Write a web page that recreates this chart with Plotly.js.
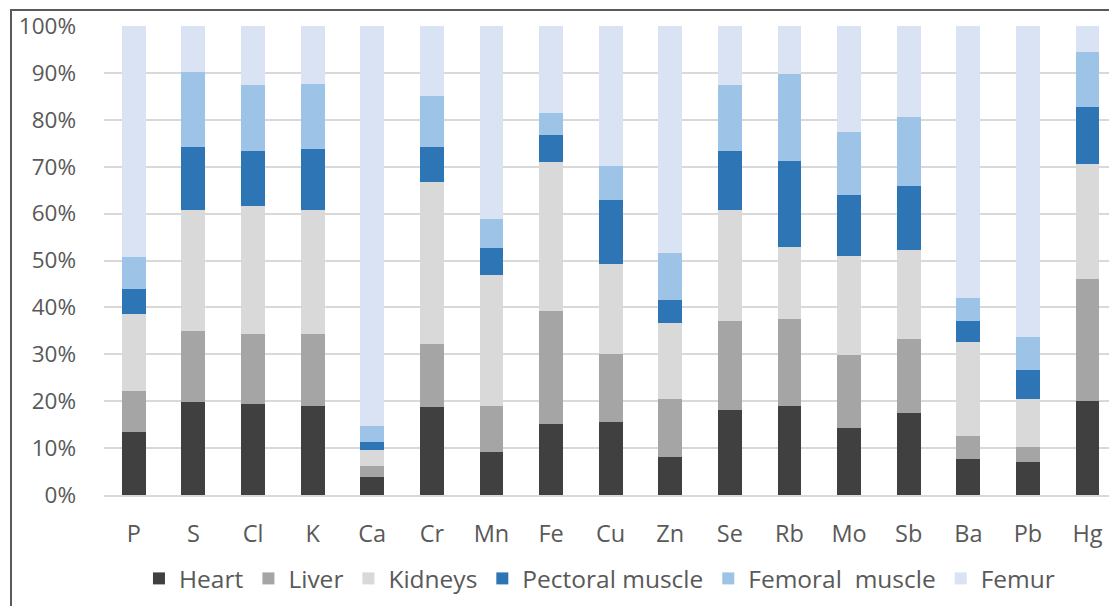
<!DOCTYPE html>
<html>
<head>
<meta charset="utf-8">
<script src="https://cdn.plot.ly/plotly-3.0.1.min.js"></script>
<style>
  html, body { margin: 0; padding: 0; background: #ffffff; overflow: hidden; }
  #chart { position: absolute; left: 0; top: 0; width: 1109px; height: 606px; }
  #frame { position: absolute; left: 10px; top: 9px; width: 1200px; height: 700px;
           border-top: 2px solid #5a5a5a; border-left: 2px solid #5a5a5a; pointer-events: none; }
</style>
</head>
<body>
<div id="chart"></div>
<div id="frame"></div>
<script>
const elements = ["P","S","Cl","K","Ca","Cr","Mn","Fe","Cu","Zn","Se","Rb","Mo","Sb","Ba","Pb","Hg"];

const heart    = [13.4, 19.9, 19.4, 19.0, 3.9, 18.8,  9.2, 15.1, 15.5,  8.2, 18.1, 19.0, 14.2, 17.4,  7.7,  7.0, 20.0];
const liver    = [ 8.8, 15.1, 14.9, 15.3, 2.2, 13.4,  9.8, 24.1, 14.6, 12.3, 18.9, 18.5, 15.6, 15.9,  4.9,  3.3, 26.1];
const kidneys  = [16.3, 25.8, 27.3, 26.5, 3.4, 34.6, 28.0, 31.8, 19.2, 16.1, 23.7, 15.4, 21.2, 18.9, 20.0, 10.1, 24.4];
const pectoral = [ 5.4, 13.5, 11.7, 13.0, 1.8,  7.5,  5.6,  5.8, 13.7,  5.0, 12.7, 18.3, 12.9, 13.7,  4.4,  6.2, 12.2];
const femoral  = [ 6.8, 15.8, 14.2, 13.9, 3.4, 10.8,  6.3,  4.6,  7.1, 10.1, 14.0, 18.5, 13.4, 14.7,  5.0,  7.1, 11.8];
const femur    = [49.3,  9.9, 12.5, 12.3, 85.3, 14.9, 41.1, 18.6, 29.9, 48.3, 12.6, 10.3, 22.7, 19.4, 58.0, 66.3, 5.5];

const seriesNames  = ["Heart", "Liver", "Kidneys", "Pectoral muscle", "Femoral\u00a0 muscle", "Femur"];
const seriesValues = [heart, liver, kidneys, pectoral, femoral, femur];
const seriesColors = ["#404040", "#a5a5a5", "#d9d9d9", "#2e75b6", "#9dc3e6", "#dae3f3"];

const yTicks = [0,10,20,30,40,50,60,70,80,90,100];

const traces = seriesNames.map((n, i) => ({
  type: "bar",
  name: n,
  x: elements,
  y: seriesValues[i],
  marker: { color: seriesColors[i], line: { width: 0 } },
  hoverinfo: "x+y+name"
}));

const layout = {
  width: 1109,
  height: 606,
  margin: { l: 104, r: 0, t: 26, b: 111, pad: 0 },
  barmode: "stack",
  barnorm: "percent",
  bargap: 0.6,
  paper_bgcolor: "rgba(0,0,0,0)",
  plot_bgcolor: "rgba(0,0,0,0)",
  font: { family: "'Open Sans', 'Noto Sans', sans-serif", color: "#595959", size: 23 },
  showlegend: true,
  legend: {
    orientation: "h",
    x: 0.493, xanchor: "center",
    y: -0.178, yanchor: "middle",
    font: { size: 24.5, color: "#595959" },
    traceorder: "normal",
    itemclick: false
  },
  xaxis: {
    type: "category",
    range: [-0.5, 16.36],
    showgrid: false,
    zeroline: false,
    showline: true,
    linecolor: "#d9d9d9",
    linewidth: 2,
    ticks: "",
    ticklabelstandoff: 17,
    tickfont: { size: 23.5, color: "#595959" }
  },
  yaxis: {
    range: [0, 100],
    tickvals: yTicks,
    ticktext: yTicks.map(v => v + "%"),
    showgrid: true,
    gridcolor: "#d9d9d9",
    gridwidth: 2,
    zeroline: false,
    showline: false,
    ticks: "",
    ticklabelstandoff: 27,
    tickfont: { size: 22.5, color: "#595959" }
  }
};

Plotly.newPlot("chart", traces, layout, { displayModeBar: false, staticPlot: true });
</script>
</body>
</html>
